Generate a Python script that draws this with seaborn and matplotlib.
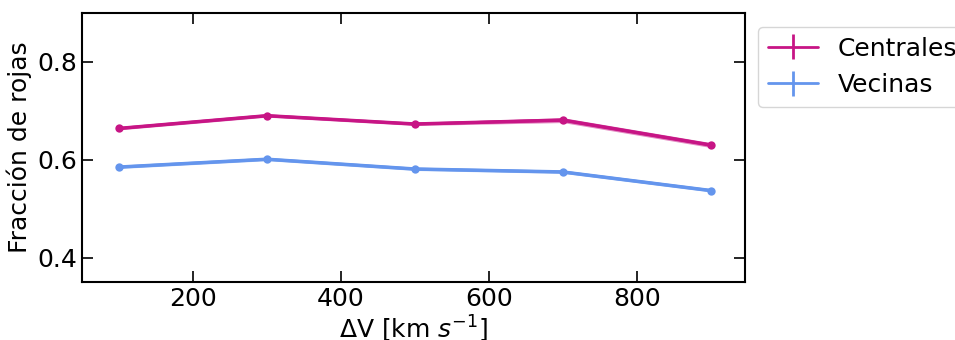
import matplotlib
matplotlib.use("Agg")
import matplotlib.pyplot as plt
import seaborn as sns
import numpy as np
import pandas as pd

dv = [100, 300, 500, 700, 900]
centrales = [0.664, 0.690, 0.673, 0.681, 0.630]
centrales_err = [0.003, 0.003, 0.003, 0.005, 0.005]
vecinas = [0.585, 0.601, 0.581, 0.575, 0.537]
vecinas_err = [0.003, 0.003, 0.003, 0.003, 0.003]

sns.set_style("white")
plt.rcParams['font.family'] = ['DejaVu Sans']
plt.rcParams['font.size'] = 18
plt.rcParams['text.color'] = 'black'
plt.rcParams['axes.labelcolor'] = 'black'
plt.rcParams['xtick.color'] = 'black'
plt.rcParams['ytick.color'] = 'black'

fig = plt.figure(figsize=(9.55, 3.4), dpi=100)
ax = fig.add_axes([0.0859, 0.1706, 0.694, 0.7912])

series = [("Centrales", centrales, centrales_err, "#C71585"),
          ("Vecinas", vecinas, vecinas_err, "#6495ED")]
for name, vals, err, col in series:
    df = pd.DataFrame({"dv": dv, "f": vals})
    v = np.array(vals); e = np.array(err)
    ax.fill_between(dv, v - e, v + e, color=col, alpha=0.5, lw=0)
    sns.lineplot(data=df, x="dv", y="f", ax=ax, color=col, lw=2.5, marker="o",
                 markersize=6, markeredgewidth=0, legend=False)
    ax.errorbar(dv, vals, yerr=err, color=col, lw=2, label=name)

ax.set_xlim(50, 946)
ax.set_ylim(0.35, 0.9)
ax.set_xticks([200, 400, 600, 800])
ax.set_yticks([0.4, 0.6, 0.8])
ax.tick_params(direction="in", length=8, width=1.2, top=True, right=True,
               labelsize=18, left=True, bottom=True)
for s in ax.spines.values():
    s.set_linewidth(1.5)
    s.set_color("black")
ax.set_xlabel(r"ΔV [km $s^{-1}$]", fontsize=18, labelpad=2)
ax.set_ylabel("Fracción de rojas", fontsize=18)
ax.legend(loc="upper left", bbox_to_anchor=(1.0196, 0.949), borderaxespad=0,
          fontsize=18, frameon=True, handlelength=2.0)
fig.savefig("out.png", dpi=100)
